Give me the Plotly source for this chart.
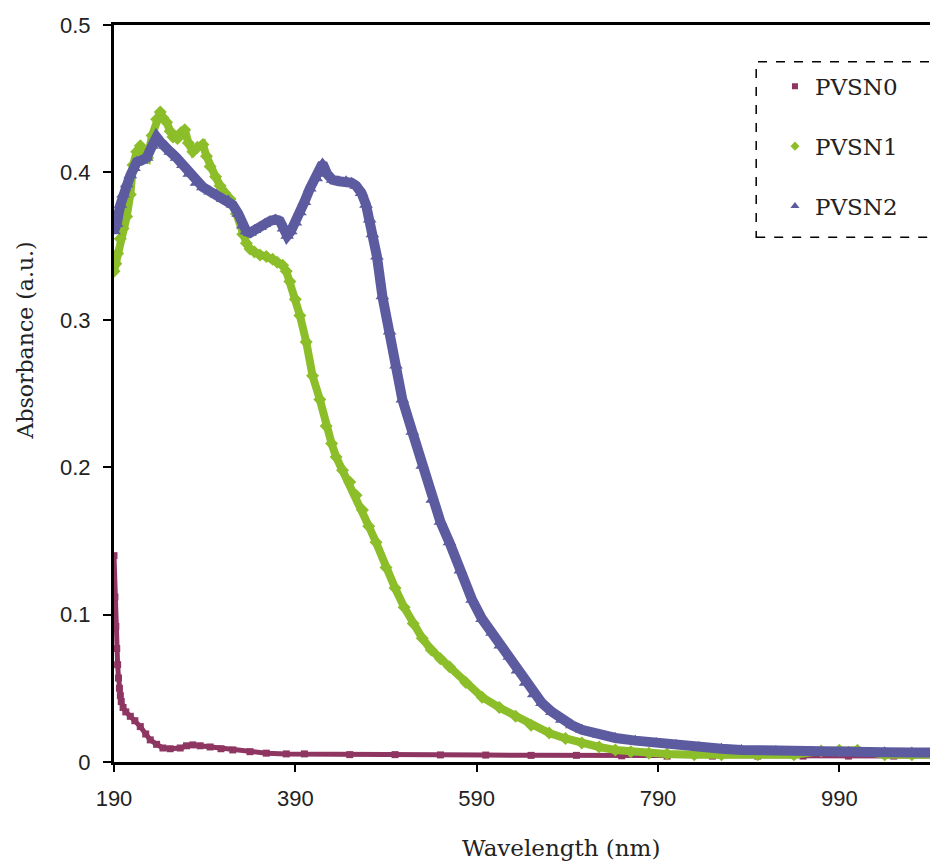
import plotly.graph_objects as go

# ---------------- data ----------------
pvsn0_x = [190, 191, 192, 193, 194, 195, 196, 197, 198, 200, 203, 208, 213, 219, 225, 230, 237, 244,
           252, 263, 270, 277, 285, 296, 308, 321, 340, 358, 380, 400, 450, 500, 550, 600, 650, 700,
           750, 800, 850, 900, 950, 1000, 1050, 1100]
pvsn0_y = [0.14, 0.112, 0.092, 0.077, 0.066, 0.057, 0.05, 0.045, 0.041, 0.037, 0.034, 0.031, 0.028,
           0.024, 0.019, 0.015, 0.012, 0.0095, 0.009, 0.0095, 0.011, 0.0116, 0.011, 0.0102, 0.009,
           0.0082, 0.007, 0.006, 0.0055, 0.0055, 0.005, 0.005, 0.0048, 0.0047, 0.0045, 0.0045,
           0.0042, 0.004, 0.004, 0.004, 0.004, 0.004, 0.004, 0.004]

pvsn1_x = [190, 192, 194, 197, 200, 204, 208, 211, 215, 219, 223, 227, 232, 237, 241, 244, 248, 252,
           255, 260, 264, 268, 272, 277, 282, 288, 292, 296, 302, 307, 312, 318, 325, 332, 336, 340,
           345, 351, 358, 365, 370, 376, 380, 384, 390, 395, 402, 409, 417, 424, 430, 435, 442, 450,
           457, 464, 471, 479, 490, 500, 510, 520, 530, 540, 550, 560, 578, 596, 615, 633, 650, 670,
           688, 706, 725, 743, 760, 780, 800, 830, 860, 900, 940, 970, 990, 1010, 1040, 1070, 1100]
pvsn1_y = [0.333, 0.338, 0.345, 0.355, 0.362, 0.37, 0.385, 0.405, 0.414, 0.418, 0.412, 0.41, 0.425,
           0.436, 0.441, 0.437, 0.434, 0.428, 0.424, 0.423, 0.427, 0.429, 0.42, 0.414, 0.417, 0.419,
           0.411, 0.404, 0.397, 0.391, 0.386, 0.382, 0.372, 0.358, 0.352, 0.348, 0.346, 0.344,
           0.343, 0.341, 0.339, 0.337, 0.333, 0.326, 0.314, 0.303, 0.285, 0.262, 0.246, 0.228,
           0.216, 0.207, 0.198, 0.19, 0.181, 0.171, 0.16, 0.149, 0.132, 0.118, 0.105, 0.094, 0.084,
           0.076, 0.07, 0.0646, 0.054, 0.044, 0.037, 0.031, 0.025, 0.0197, 0.016, 0.0129, 0.0102,
           0.0082, 0.007, 0.006, 0.0055, 0.005, 0.005, 0.005, 0.005, 0.0075, 0.008, 0.008, 0.005,
           0.005, 0.005]

pvsn2_x = [190, 193, 197, 200, 204, 208, 212, 215, 220, 226, 232, 237, 242, 247, 252, 259, 266, 273,
           281, 288, 296, 303, 310, 316, 321, 327, 332, 336, 340, 345, 351, 356, 362, 368, 373, 377,
           381, 385, 390, 395, 400, 406, 413, 420, 425, 431, 438, 446, 452, 457, 463, 468, 472, 475,
           480, 486, 494, 501, 508, 519, 530, 541, 550, 560, 572, 585, 596, 607, 616, 626, 635, 644,
           653, 662, 673, 684, 695, 706, 725, 743, 765, 788, 810, 835, 860, 882, 920, 960, 1000,
           1040, 1070, 1100]
pvsn2_y = [0.36, 0.365, 0.378, 0.385, 0.392, 0.398, 0.403, 0.407, 0.408, 0.41, 0.418, 0.424, 0.42,
           0.418, 0.414, 0.41, 0.405, 0.399, 0.393, 0.39, 0.387, 0.385, 0.382, 0.381, 0.378, 0.372,
           0.364, 0.36, 0.359, 0.361, 0.363, 0.365, 0.367, 0.368, 0.367, 0.362, 0.357, 0.36, 0.366,
           0.373, 0.38, 0.389, 0.396, 0.406, 0.399, 0.395, 0.394, 0.394, 0.393, 0.391, 0.386, 0.378,
           0.368, 0.358, 0.343, 0.316, 0.292, 0.269, 0.246, 0.224, 0.201, 0.178, 0.163, 0.149, 0.13,
           0.11, 0.097, 0.0877, 0.079, 0.0714, 0.062, 0.0537, 0.046, 0.04, 0.034, 0.0286, 0.025,
           0.0218, 0.0185, 0.0163, 0.0145, 0.0129, 0.0115, 0.0102, 0.009, 0.0082, 0.0075, 0.007,
           0.0068, 0.0066, 0.0065, 0.0065]

series_names = ["PVSN0", "PVSN1", "PVSN2"]
x_ticks = [190, 390, 590, 790, 990]
y_ticks = [0, 0.1, 0.2, 0.3, 0.4, 0.5]
y_ticktext = ["0", "0.1", "0.2", "0.3", "0.4", "0.5"]

# ---------------- style ----------------
colors = ["#8F3562", "#8CBE2A", "#5D5BA0"]
symbols = ["square", "diamond", "triangle-up"]
line_w = [5, 8, 10]
mark_s = [7, 10, 12]
legend_s = [6, 7, 8]

fig = go.Figure()
for i, (xs, ys) in enumerate([(pvsn0_x, pvsn0_y), (pvsn1_x, pvsn1_y), (pvsn2_x, pvsn2_y)]):
    fig.add_trace(go.Scatter(
        x=xs, y=ys, name=series_names[i], mode="lines+markers",
        line=dict(color=colors[i], width=line_w[i]),
        marker=dict(color=colors[i], symbol=symbols[i], size=mark_s[i]),
        showlegend=False,
    ))
# legend entries (marker only, like the reference legend)
for i in range(3):
    fig.add_trace(go.Scatter(
        x=[None], y=[None], name=series_names[i], mode="markers",
        marker=dict(color=colors[i], symbol=symbols[i], size=legend_s[i]),
        legendgroup=series_names[i], showlegend=True,
    ))

tick_font = dict(family="Liberation Sans, Arial, sans-serif", size=22, color="#222")
serif = "DejaVu Serif, serif"

fig.update_layout(
    width=930, height=863,
    margin=dict(l=114, r=0, t=25, b=101),
    paper_bgcolor="white", plot_bgcolor="white",
    showlegend=True,
    legend=dict(
        x=0.810, y=0.946, xanchor="left", yanchor="top",
        font=dict(family=serif, size=23, color="#222"),
        bgcolor="rgba(0,0,0,0)", borderwidth=0,
        traceorder="grouped", tracegroupgap=27,
        itemwidth=30,
    ),
    xaxis=dict(
        range=[190, 1090], tickvals=x_ticks, ticks="outside", ticklen=7, tickwidth=1.5,
        tickcolor="black", showline=True, linecolor="black", linewidth=3, mirror=True,
        showgrid=False, zeroline=False, tickfont=tick_font, layer="below traces",
        ticklabelstandoff=8,
    ),
    yaxis=dict(
        range=[0, 0.5], tickvals=y_ticks, ticktext=y_ticktext, ticks="outside", ticklen=8,
        tickwidth=1.5, tickcolor="black", showline=True, linecolor="black", linewidth=3,
        showgrid=False, zeroline=False, tickfont=tick_font, layer="below traces",
        ticklabelstandoff=8,
    ),
    annotations=[
        dict(text="Wavelength (nm)", xref="paper", yref="paper", x=0.548, y=-0.117,
             xanchor="center", yanchor="middle", showarrow=False,
             font=dict(family=serif, size=23, color="#222")),
        dict(text="Absorbance (a.u.)", xref="paper", yref="paper", x=-0.109, y=0.572,
             xanchor="center", yanchor="middle", showarrow=False, textangle=-90,
             font=dict(family=serif, size=22, color="#222")),
    ],
    shapes=[
        dict(type="rect", xref="paper", yref="paper", x0=0.787, x1=1.006, y0=0.712, y1=0.95,
             line=dict(color="black", width=1.5, dash="dash"), fillcolor="rgba(0,0,0,0)"),
    ],
)

fig.write_html("out.html")
